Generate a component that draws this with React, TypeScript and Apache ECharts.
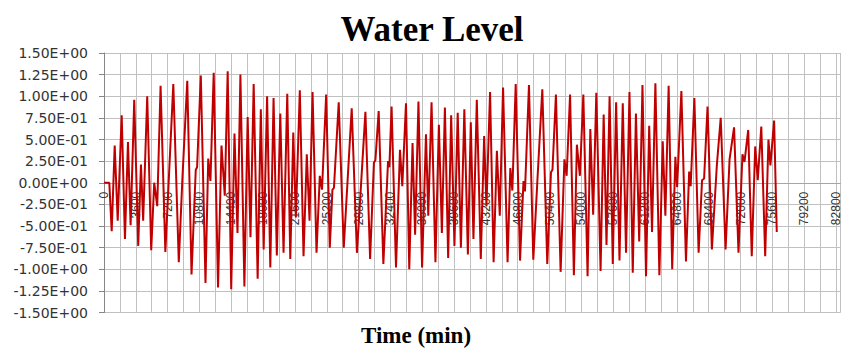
import React, { useEffect, useRef } from "react";
import * as echarts from "echarts";

const titleText = "Water Level";
const xTitle = "Time (min)";

// time in minutes
const times = [
  0, 600, 870, 1210, 1550, 2000, 2370, 2710, 3010, 3420, 3870, 4180, 4430, 4890, 5340, 5680, 6020, 6400, 6940,
  7840, 8460, 8860, 9420, 9900, 10380, 10530, 10950, 11480, 11790, 12040, 12410, 12900, 13290, 13660, 13990,
  14390, 14760, 15100, 15430, 15880, 16250, 16570, 16930, 17380, 17740, 18060, 18450, 18810, 19180, 19550,
  19940, 20310, 20730, 21070, 21410, 21700, 22150, 22570, 22940, 23250, 23590, 24040, 24410, 24660, 25130,
  25540, 25840, 26010, 26550, 27120, 28020, 28610, 29570, 30100, 30530, 30700, 31070, 31600, 32130, 32280,
  32530, 33030, 33480, 33740, 34160, 34530, 34900, 35190, 35570, 35980, 36420, 36680, 37050, 37490, 37880,
  38220, 38560, 38930, 39270, 39640, 40010, 40370, 40760, 41160, 41490, 41790, 42170, 42620, 43000, 43260,
  43670, 44070, 44440, 44770, 45140, 45650, 45960, 46190, 46570, 47060, 47450, 47620, 48070, 48560, 49010,
  49580, 50140, 50560, 50730, 51120, 51650, 52080, 52330, 52720, 53150, 53490, 53830, 54220, 54700, 55010,
  55330, 55690, 56170, 56520, 56840, 57190, 57550, 57930, 58310, 58680, 59050, 59440, 59810, 60170, 60540,
  60910, 61310, 61670, 61990, 62370, 62820, 63200, 63500, 63870, 64270, 64630, 64830, 65310, 65830, 66190,
  66360, 66780, 67260, 67650, 67880, 68270, 68760, 69320, 69760, 70310, 70760, 71270, 71770, 72220, 72450,
  72870, 73270, 73660, 73950, 74350, 74790, 75160, 75380, 75800, 76100,
];

// water level
const levels = [
  0, 0, -0.56, 0.43, -0.44, 0.78, -0.65, 0.47, -0.49, 0.96, -0.73, 0.21, -0.44, 1.0, -0.78, 0.0, -0.27, 1.12, -0.8,
  1.14, -0.92, 0.03, 1.18, -1.06, 0.15, 0.18, 1.24, -1.16, 0.28, 0.02, 1.27, -1.21, 0.43, -0.15, 1.29,
  -1.23, 0.57, -0.58, 1.25, -1.2, 0.76, -0.63, 1.14, -1.11, 0.85, -0.77, 1.0, -0.98, 0.98, -0.84,
  0.8, -0.81, 1.03, -0.88, 0.58, -0.4, 1.07, -0.85, 0.33, -0.44, 1.05, -0.81, 0.08, -0.08, 1.02,
  -0.75, -0.08, -0.06, 0.93, -0.75, 0.86, -0.81, 0.82, -0.88, 0.23, 0.26, 0.83, -0.94, 0.25, 0.18,
  0.88, -0.98, 0.38, -0.04, 0.92, -1.0, 0.46, -0.6, 0.94, -0.98, 0.56, -0.38, 0.93, -0.92, 0.67,
  -0.58, 0.87, -0.87, 0.78, -0.73, 0.81, -0.75, 0.85, -0.83, 0.7, -0.65, 0.96, -0.88, 0.54, -0.27,
  1.05, -0.92, 0.37, -0.38, 1.1, -0.92, 0.17, -0.09, 1.14, -0.9, 0.02, -0.1, 1.13, -0.89, 0.0,
  1.08, -0.94, 0.12, 0.15, 1.02, -1.03, 0.27, 0.08, 1.02, -1.07, 0.44, 0.08, 1.02, -1.08, 0.62,
  -0.37, 1.04, -1.02, 0.79, -0.72, 1.0, -0.94, 0.93, -0.9, 0.92, -0.81, 1.05, -1.04, 0.8, -0.68,
  1.13, -1.08, 0.66, -0.57, 1.15, -1.07, 0.48, -0.38, 1.12, -1.0, 0.3, -0.05, 1.06, -0.91, 0.13,
  -0.04, 0.98, -0.81, 0.03, 0.05, 0.88, -0.77, 0.2, 0.75, -0.77, 0.27, 0.64, -0.81, 0.33, 0.24,
  0.61, -0.85, 0.42, 0.03, 0.65, -0.85, 0.5, 0.2, 0.72, -0.57,
];

const yMin = -1.5;
const yMax = 1.5;
const yStep = 0.25;
const xMin = 0;
const xMax = 83300;
const xGridStep = 1800;
const xLabelStep = 3600;

const gridTop = 53;
const gridBottom = 36.5;
const chartH = 349;

function sci(v: number): string {
  if (Math.abs(v) < 1e-9) return "0.00E+00";
  const sign = v < 0 ? "-" : "";
  const a = Math.abs(v);
  let e = Math.floor(Math.log10(a) + 1e-9);
  let m = a / Math.pow(10, e);
  if (m >= 9.995) {
    m /= 10;
    e += 1;
  }
  return sign + m.toFixed(2) + "E" + (e < 0 ? "-" : "+") + String(Math.abs(e)).padStart(2, "0");
}

export default function App() {
  const ref = useRef<HTMLDivElement>(null);
  useEffect(() => {
    if (!ref.current) return;
    const chart = echarts.init(ref.current, undefined, { renderer: "svg" });
    const data = times.map((t, i) => [t, levels[i]]);
    // place the category axis at value 0 of the y axis (Excel "axis crosses at 0")
    const plotH = chartH - gridTop - gridBottom;
    const zeroOffset = -plotH * ((0 - yMin) / (yMax - yMin));
    chart.setOption({
      animation: false,
      backgroundColor: "#ffffff",
      title: [
        {
          text: titleText,
          left: 427,
          top: 7,
          textAlign: "center",
          textStyle: {
            fontFamily: "Liberation Serif",
            fontWeight: "bold",
            fontSize: 35,
            color: "#000000",
          },
        },
        {
          text: xTitle,
          left: 411,
          top: 319,
          textAlign: "center",
          textStyle: {
            fontFamily: "Liberation Serif",
            fontWeight: "bold",
            fontSize: 23,
            color: "#000000",
          },
        },
      ],
      grid: { left: 104, right: 0, top: gridTop, bottom: gridBottom, containLabel: false },
      xAxis: {
        type: "value",
        position: "bottom",
        offset: zeroOffset,
        min: xMin,
        max: xMax,
        interval: xGridStep,
        axisLine: { show: true, onZero: false, lineStyle: { color: "#a6a6a6", width: 1 } },
        axisTick: { show: false },
        axisLabel: {
          rotate: 90,
          margin: 9,
          fontFamily: "Liberation Sans",
          fontSize: 12,
          color: "#333333",
          formatter: (v: number) => (v % xLabelStep === 0 ? String(v) : ""),
        },
        splitLine: { show: true, lineStyle: { color: "#c0c0c0", width: 1 } },
      },
      yAxis: {
        type: "value",
        min: yMin,
        max: yMax,
        interval: yStep,
        axisLine: { show: true, onZero: false, lineStyle: { color: "#868686", width: 1 } },
        axisTick: { show: true, inside: false, length: 5, lineStyle: { color: "#868686" } },
        axisLabel: {
          margin: 16,
          fontFamily: "DejaVu Sans",
          fontSize: 14,
          color: "#333333",
          formatter: (v: number) => sci(v),
        },
        splitLine: { show: true, lineStyle: { color: "#c0c0c0", width: 1 } },
      },
      series: [
        {
          type: "line",
          data,
          showSymbol: false,
          symbol: "none",
          lineStyle: { color: "#c00000", width: 2 },
          itemStyle: { color: "#c00000" },
          clip: true,
          z: 2,
        },
      ],
    });
    return () => chart.dispose();
  }, []);
  return (
    <div
      ref={ref}
      style={{ position: "fixed", left: 0, top: 0, width: 842, height: 349, background: "#fff" }}
    />
  );
}
